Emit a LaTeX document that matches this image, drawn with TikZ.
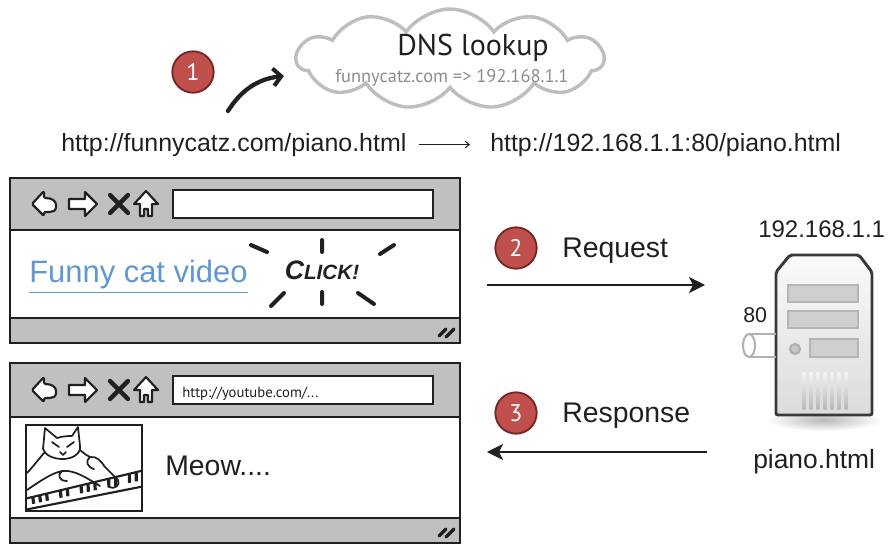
\documentclass[tikz,border=0pt]{standalone}
\usepackage{fontspec}
\setmainfont{Liberation Sans}
\newfontfamily\myriad{PT Sans}
\usetikzlibrary{arrows.meta, shapes.symbols, calc, positioning}

\definecolor{numred}{RGB}{192,80,77}
\definecolor{numrim}{RGB}{120,38,36}
\definecolor{linkblue}{RGB}{96,152,207}
\definecolor{cloudgray}{RGB}{190,190,190}
\definecolor{dnsgray}{RGB}{140,140,140}
\definecolor{bargray}{RGB}{192,192,192}
\definecolor{inkblack}{RGB}{35,31,32}

\tikzset{
  numdot/.style={circle, fill=numred, draw=numrim, line width=1.4pt, minimum size=31pt,
    inner sep=0pt, text=white, font=\myriad\fontsize{18}{18}\selectfont},
  caption/.style={anchor=base west, inner sep=0pt, text=inkblack,
    font=\fontsize{21.3}{24}\selectfont},
  urltext/.style={caption, font=\fontsize{18.7}{22}\selectfont},
  flow/.style={line width=1.5pt, inkblack, -{Stealth[length=12pt, width=12pt, inset=3pt]}},
  frame/.style={line width=2.2pt, inkblack},
  urlbox/.style={fill=white, draw=inkblack, line width=1.8pt},
  navicon/.style={fill=white, draw=inkblack, line width=1.6pt, line join=round},
  slot/.style={fill=gray!38, draw=gray!58, line width=1.5pt},
  port/.style={draw=gray!60, line width=1.6pt},
}

\begin{document}
\begin{tikzpicture}[x=0.75pt, y=-0.75pt]
  \useasboundingbox (0,0) rectangle (889,544);
  \clip (0,0) rectangle (889,544);

  % DNS lookup cloud
  \node[cloud, draw=cloudgray, line width=2.6pt, cloud puffs=11, cloud puff arc=110,
    aspect=3, minimum width=230pt, minimum height=75pt, inner sep=0pt] (dns) at (450,59) {};
  \node[anchor=base west, inner sep=0pt, text=inkblack, font=\myriad\fontsize{22.5}{24}\selectfont]
    (dnstitle) at (397,55) {DNS lookup};
  \node[anchor=base west, inner sep=0pt, text=dnsgray, font=\myriad\fontsize{13.8}{15}\selectfont]
    (dnsmap) at (335,82) {funnycatz.com => 192.168.1.1};

  \node[numdot] (one) at (193,72) {1};
  \coordinate (dnsfrom) at (228,111);
  \coordinate (dnsto) at (284,76);
  \draw[line width=3.2pt, line cap=round, inkblack,
    -{Straight Barb[length=6pt, width=13pt, line width=3pt]}]
    (dnsfrom) .. controls (240,92) and (256,79) .. (dnsto);

  % name -> address
  \node[urltext] (urlname) at (61,151) {http://funnycatz.com/piano.html};
  \node[urltext] (urlip) at (490,151) {http://192.168.1.1:80/piano.html};
  \draw[line width=0.8pt, inkblack, -{Straight Barb[length=3pt, width=5pt]},
    shorten <=9pt, shorten >=15pt] (urlname.east) -- (urlip.west);

  % browser windows
  \foreach \tp/\md/\bt in {178/230/318, 363/417/518} {
    \pgfmathsetmacro\cy{(\tp+\md)/2}
    \fill[bargray] (10,\tp) rectangle (460,\md);
    \fill[white] (10,\md) rectangle (460,\bt);
    \fill[bargray] (10,\bt) rectangle (460,\bt+25);
    \draw[frame] (10,\tp) rectangle (460,\bt+25);
    \draw[frame] (10,\md) -- (460,\md) (10,\bt) -- (460,\bt);
    \draw[urlbox] (173,\cy-14) rectangle (433,\cy+14);
    \begin{scope}[shift={(0,\cy)}]
      \draw[navicon, rounded corners=1pt] (32,0) -- (44,-13) -- (44,-6) .. controls (52,-6) and (56,-3) .. (56,2)
        .. controls (56,7) and (52,8) .. (48,8) -- (44,8) -- (44,12) -- cycle;
      \draw[navicon] (97,0) -- (85,-12) -- (85,-5) -- (69,-5) -- (69,5) -- (85,5) -- (85,12) -- cycle;
      \draw[line width=3.2pt, line cap=round, inkblack] (110,-9) -- (128,9) (110,9) -- (128,-9);
      \draw[navicon] (146,-13) -- (158,0) -- (152,0) -- (152,12) -- (148,12) -- (148,5)
        -- (144,5) -- (144,12) -- (140,12) -- (140,0) -- (134,0) -- cycle;
    \end{scope}
    % resize grip
    \draw[line width=2.6pt, line cap=round, inkblack] (439,\bt+18) -- (446,\bt+11) (446,\bt+19) -- (454,\bt+11);
  }

  % first page: the link
  \node[caption, text=linkblue, font=\fontsize{23.2}{26}\selectfont] (link) at (29,282) {Funny cat video};
  \draw[linkblue, line width=1.2pt] ([yshift=-3pt]link.south west) -- ([yshift=-3pt]link.south east);
  \node[inner sep=0pt, text=inkblack, font=\bfseries\itshape] (click) at (322,270)
    {{\fontsize{20}{20}\selectfont C}\fontsize{15.5}{16}\selectfont LICK!};
  \draw[line width=3pt, line cap=round, inkblack]
    (251,245) -- (267,252)  (322,240) -- (322,252)  (380,254) -- (394,245)
    (271,306) -- (284,293)  (322,292) -- (322,304)  (358,293) -- (374,304);

  % second page: the video
  \node[anchor=base west, inner sep=0pt, text=inkblack, font=\myriad\fontsize{11}{12}\selectfont]
    (yturl) at (182,397) {http://youtube.com/...};
  \draw[line width=2pt, inkblack] (26,425) rectangle (142,511);
  \begin{scope}
    \clip (26,425) rectangle (142,511);
    \draw[line width=1.3pt, line join=round, line cap=round, inkblack]
      % head
      (43,449) -- (45,428) -- (57,438) .. controls (63,436) and (69,436) .. (72,436) -- (78,427)
        -- (80,446) .. controls (81,454) and (72,459) .. (63,459) .. controls (53,459) and (45,455) .. (43,449)
      (52,442) -- (59,447)  (74,442) -- (67,447)
      (60,452) -- (63,455) -- (66,452)
      % body and arms
      (44,453) .. controls (38,460) and (32,468) .. (27,473)
      (80,450) .. controls (85,454) and (87,456) .. (90,457)
      (90,457) .. controls (97,456) and (101,461) .. (105,467) -- (118,480)
        .. controls (121,485) and (114,490) .. (109,487)
      (90,457) .. controls (85,461) and (87,467) .. (94,469)
      (27,490) .. controls (40,481) and (52,473) .. (62,471)
        .. controls (71,470) and (80,474) .. (90,480) -- (100,486)
      (62,471) .. controls (57,475) and (59,481) .. (67,481);
    % keyboard
    \draw[line width=1.6pt, inkblack] (24,499) -- (145,470) (24,510) -- (145,486);
    \foreach \k in {0.05,0.11,0.17,0.29,0.35,0.47,0.53,0.59,0.71,0.77,0.89,0.95}
      \draw[line width=2.4pt, inkblack] ({27+115*\k},{498-27*\k}) -- ({28+114*\k},{505-25*\k});
  \end{scope}
  \node[caption] (meow) at (165,475) {Meow....};

  % request / response
  \coordinate (reqfrom) at (487,285);
  \coordinate (reqto) at (705,285);
  \draw[flow] (reqfrom) -- (reqto);
  \node[numdot] (two) at (516,248) {2};
  \node[caption] (req) at (562,257) {Request};

  \coordinate (resfrom) at (707,452);
  \coordinate (resto) at (487,452);
  \draw[flow] (resfrom) -- (resto);
  \node[numdot] (three) at (516,413) {3};
  \node[caption] (res) at (562,422) {Response};

  % server
  \shade[inner color=gray!55, outer color=white] (824,420) ellipse (58 and 11);
  \draw[top color=gray!4, bottom color=gray!28, draw=gray!45!black, line width=2.2pt,
    rounded corners=1.5pt] (790,255) -- (859,255) -- (872,272) -- (872,415) -- (776,415) -- (776,272) -- cycle;
  \draw[slot] (788,285) rectangle (858,302);
  \draw[slot] (788,311) rectangle (858,328);
  \draw[slot] (810,339) rectangle (858,357);
  \draw[fill=gray!45, draw=gray!62, line width=1.6pt] (795,349) circle (5);
  \foreach \vx in {804,811,...,846}
    \shade[top color=gray!8, bottom color=gray!55] (\vx-1.4,372) rectangle (\vx+1.4,409);
  \draw[port] (776,334) -- (749,334) (749,357) -- (776,357);
  \draw[port, fill=white] (749,345.5) ellipse (6 and 11.5);

  \node[caption, font=\fontsize{18}{20}\selectfont] (srvip) at (758,237) {192.168.1.1};
  \node[caption, font=\fontsize{16}{18}\selectfont] (port) at (743,322) {80};
  \node[caption, font=\fontsize{19.8}{22}\selectfont] (srvfile) at (753,468) {piano.html};
\end{tikzpicture}
\end{document}
